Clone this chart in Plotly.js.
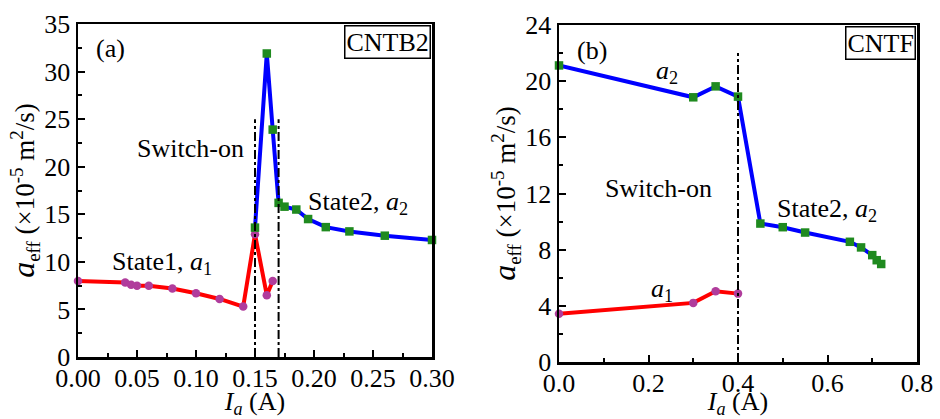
<!DOCTYPE html>
<html>
<head>
<meta charset="utf-8">
<script src="https://cdn.plot.ly/plotly-3.0.1.min.js"></script>
<style>html,body{margin:0;padding:0;background:#fff;}#chart{width:940px;height:419px;}</style>
</head>
<body>
<div id="chart"></div>
<script>
// ---- Data: panel (a) CNTB2 ----
const cntb2_a1_x = [0, 0.04, 0.045, 0.05, 0.06, 0.08, 0.10, 0.12, 0.14, 0.15, 0.16, 0.165];
const cntb2_a1_y = [8.0, 7.84, 7.6, 7.5, 7.5, 7.2, 6.7, 6.1, 5.3, 12.9, 6.5, 8.0];
const cntb2_a2_x = [0.15, 0.16, 0.165, 0.17, 0.175, 0.185, 0.195, 0.21, 0.23, 0.26, 0.30];
const cntb2_a2_y = [13.6, 31.9, 23.9, 16.2, 15.8, 15.5, 14.5, 13.65, 13.2, 12.75, 12.3];
const cntb2_switch_x = [0.15, 0.17];
const cntb2_switch_top = 25;

// ---- Data: panel (b) CNTF ----
const cntf_a1_x = [0, 0.3, 0.35, 0.4];
const cntf_a1_y = [3.43, 4.21, 5.04, 4.87];
const cntf_a2_x = [0, 0.3, 0.35, 0.4, 0.45, 0.5, 0.55, 0.65, 0.675, 0.7, 0.71, 0.72];
const cntf_a2_y = [21.12, 18.85, 19.63, 18.9, 9.86, 9.6, 9.22, 8.56, 8.16, 7.61, 7.25, 6.98];
const cntf_switch_x = [0.4];
const cntf_switch_top = 22;

const W = 940, H = 419;
const PX = p => p / W;
const PY = p => 1 - p / H;

const FONT = 'Liberation Serif';
const RED = '#ff0000', BLUE = '#0000ff', MAG = '#b03c9c', GRN = '#1f8a1f';

function line(x, y, color, mcolor, symbol, xa, ya) {
  return {
    x: x, y: y, xaxis: xa, yaxis: ya, type: 'scatter', mode: 'lines+markers',
    line: {color: color, width: 4},
    marker: {color: mcolor, size: 8.5, symbol: symbol},
    cliponaxis: false, showlegend: false, hoverinfo: 'skip'
  };
}

const traces = [
  line(cntb2_a1_x, cntb2_a1_y, RED, MAG, 'circle', 'x', 'y'),
  line(cntb2_a2_x, cntb2_a2_y, BLUE, GRN, 'square', 'x', 'y'),
  line(cntf_a1_x, cntf_a1_y, RED, MAG, 'circle', 'x2', 'y2'),
  line(cntf_a2_x, cntf_a2_y, BLUE, GRN, 'square', 'x2', 'y2')
];

const ytitle = '<span style="font-size:32px"><i>a</i></span><sub>eff</sub> (×10<sup>-5</sup> m<sup>2</sup>/s)';
const xtitle = '<i>I<sub>a</sub></i> (A)';

const tickFont = {family: FONT, size: 26, color: '#000'};
const titleFont = {family: FONT, size: 27, color: '#000'};
const xTitleFont = {family: FONT, size: 26, color: '#000'};
const minorT = (d) => ({dtick: d, ticks: 'inside', ticklen: 4, tickwidth: 2, tickcolor: '#000'});

function axis(extra) {
  return Object.assign({
    showline: true, mirror: true, linecolor: '#000', linewidth: 2.5,
    ticks: 'inside', ticklen: 7, tickwidth: 2, tickcolor: '#000',
    showgrid: false, zeroline: false,
    tickfont: tickFont
  }, extra);
}

const shapes = [];
cntb2_switch_x.forEach(v => shapes.push({type: 'line', xref: 'x', yref: 'y', x0: v, x1: v, y0: 0, y1: cntb2_switch_top,
  line: {color: '#000', width: 2, dash: 'dashdot'}}));
cntf_switch_x.forEach(v => shapes.push({type: 'line', xref: 'x2', yref: 'y2', x0: v, x1: v, y0: 0, y1: cntf_switch_top,
  line: {color: '#000', width: 2, dash: 'dashdot'}}));

function ann(text, px, py, size, extra) {
  return Object.assign({text: text, xref: 'paper', yref: 'paper', x: PX(px), y: PY(py),
    xanchor: 'center', yanchor: 'middle', showarrow: false,
    font: {family: FONT, size: size || 26, color: '#000'}}, extra || {});
}

const annotations = [
  ann('(a)', 110, 49),
  ann('CNTB2', 431, 25, 26, {xanchor: 'right', yanchor: 'top', bordercolor: '#000', borderwidth: 1.5, borderpad: 1, bgcolor: '#fff'}),
  ann('Switch-on', 190, 148),
  ann('State2, <i>a</i><sub>2</sub>', 358, 203),
  ann('State1, <i>a</i><sub>1</sub>', 162, 263),
  ann('(b)', 592, 50),
  ann('CNTF', 916, 26, 26, {xanchor: 'right', yanchor: 'top', bordercolor: '#000', borderwidth: 1.5, borderpad: 1, bgcolor: '#fff'}),
  ann('<i>a</i><sub>2</sub>', 667, 72),
  ann('Switch-on', 658, 188),
  ann('State2, <i>a</i><sub>2</sub>', 827, 210),
  ann('<i>a</i><sub>1</sub>', 662, 290)
];

const layout = {
  width: W, height: H,
  margin: {l: 0, r: 0, t: 0, b: 0},
  paper_bgcolor: '#fff', plot_bgcolor: '#fff',
  showlegend: false,
  font: {family: FONT, color: '#000'},
  xaxis: axis({domain: [PX(78), PX(432)], range: [0, 0.30], dtick: 0.05, tick0: 0, tickformat: '.2f',
    ticklabelstandoff: -4,
    minor: minorT(0.025), anchor: 'y', title: {text: xtitle, standoff: 4, font: xTitleFont}}),
  yaxis: axis({domain: [PY(357), PY(24)], range: [0, 35], dtick: 5, tick0: 0,
    minor: minorT(2.5), anchor: 'x', title: {text: ytitle, standoff: 2, font: titleFont}}),
  xaxis2: axis({domain: [PX(559), PX(917)], range: [0, 0.8], dtick: 0.2, tick0: 0, tickformat: '.1f',
    ticklabelstandoff: -4,
    minor: minorT(0.1), anchor: 'y2', title: {text: xtitle, standoff: 2, font: xTitleFont}}),
  yaxis2: axis({domain: [PY(362), PY(25)], range: [0, 24], dtick: 4, tick0: 0,
    minor: minorT(2), anchor: 'x2', title: {text: ytitle, standoff: 2, font: titleFont}}),
  shapes: shapes,
  annotations: annotations
};

Plotly.newPlot('chart', traces, layout, {displayModeBar: false, staticPlot: true});
</script>
</body>
</html>
